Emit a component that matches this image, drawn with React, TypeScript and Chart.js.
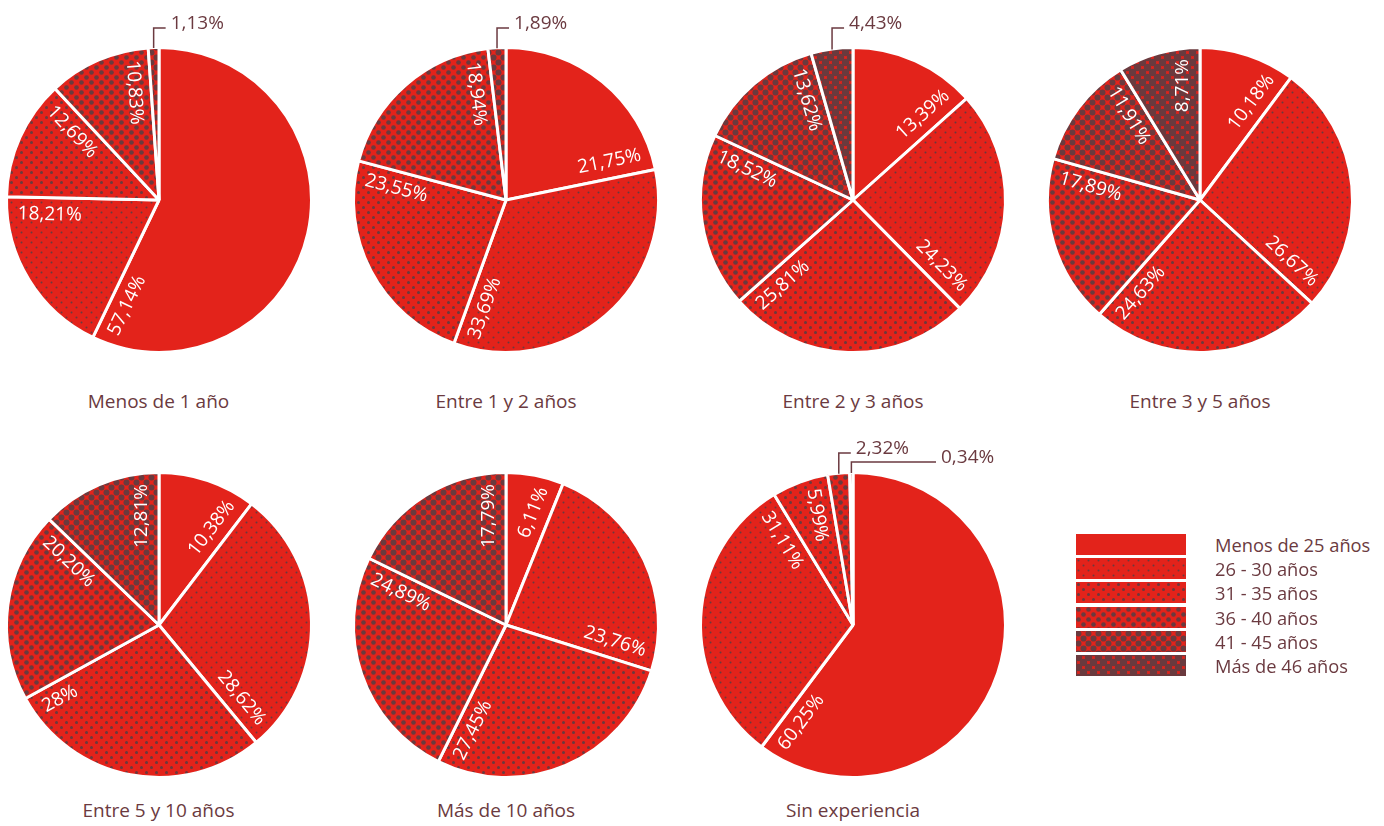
import React, { useEffect, useRef } from "react";
import { Chart, registerables } from "chart.js";

Chart.register(...registerables);

// ---------- data ----------
const AGE_GROUPS = [
  "Menos de 25 años",
  "26 - 30 años",
  "31 - 35 años",
  "36 - 40 años",
  "41 - 45 años",
  "Más de 46 años",
];

const MENOS_1_ANO = [57.14, 18.21, 12.69, 10.83, 1.13, 0];
const ENTRE_1_2 = [21.75, 33.69, 23.55, 18.94, 1.89, 0];
const ENTRE_2_3 = [13.39, 24.23, 25.81, 18.52, 13.62, 4.43];
const ENTRE_3_5 = [10.18, 26.67, 24.63, 17.89, 11.91, 8.71];
const ENTRE_5_10 = [10.38, 28.62, 28, 20.2, 12.81, 0];
const MAS_10 = [6.11, 23.76, 27.45, 24.89, 17.79, 0];
const SIN_EXPERIENCIA = [60.25, 31.11, 5.99, 2.32, 0.34, 0];

const TITLES = [
  "Menos de 1 año",
  "Entre 1 y 2 años",
  "Entre 2 y 3 años",
  "Entre 3 y 5 años",
  "Entre 5 y 10 años",
  "Más de 10 años",
  "Sin experiencia",
];
const SERIES = [MENOS_1_ANO, ENTRE_1_2, ENTRE_2_3, ENTRE_3_5, ENTRE_5_10, MAS_10, SIN_EXPERIENCIA];

// ---------- style ----------
const RED = "#E3231B";
const DOT = "#6A3A3E";
const BROWN = "#6B3A40";
const FONT = "'Open Sans', 'DejaVu Sans', sans-serif";
const DOT_RADII = [0, 1.0, 1.5, 2.3, 3.0, 3.7];

const CENTERS: [number, number][] = [
  [158.5, 199.5],
  [506, 199.5],
  [853, 199.5],
  [1200, 199.5],
  [158.5, 625],
  [506, 625],
  [853, 625],
];
const TITLE_Y = [401, 401, 401, 401, 810, 810, 810];

const CW = 340;
const CH = 380;
const CX_IN = 170;
const CY_IN = 210;
const AREA = 308;

function makePattern(r: number): CanvasPattern | string {
  if (r <= 0) return RED;
  const c = document.createElement("canvas");
  c.width = 10;
  c.height = 10;
  const g = c.getContext("2d")!;
  g.fillStyle = RED;
  g.fillRect(0, 0, 10, 10);
  g.fillStyle = DOT;
  const pts = [
    [2.5, 2.5],
    [7.5, 7.5],
  ];
  for (const [px, py] of pts) {
    for (const dx of [-10, 0, 10]) {
      for (const dy of [-10, 0, 10]) {
        g.beginPath();
        g.arc(px + dx, py + dy, r, 0, Math.PI * 2);
        g.fill();
      }
    }
  }
  return g.createPattern(c, "repeat")!;
}

function fmt(v: number): string {
  const s = Number.isInteger(v) ? String(v) : v.toFixed(2);
  return s.replace(".", ",") + "%";
}

const MARGIN = 10;
const PERP = 17;

const labelPlugin = {
  id: "sliceLabels",
  afterDatasetsDraw(chart: any) {
    const ctx: CanvasRenderingContext2D = chart.ctx;
    const meta = chart.getDatasetMeta(0);
    const values = chart.data.datasets[0].data as number[];
    ctx.save();
    ctx.font = `19px ${FONT}`;
    let prevEnd = -Infinity;
    let extCount = 0;
    meta.data.forEach((el: any, i: number) => {
      const v = values[i];
      if (!v) return;
      const { x, y, startAngle, endAngle, outerRadius } = el.getProps(
        ["x", "y", "startAngle", "endAngle", "outerRadius"],
        true
      );
      const R = outerRadius - 1.5;
      const text = fmt(v);
      const w = ctx.measureText(text).width;
      if (v >= 5) {
        const e = endAngle;
        const ux = Math.cos(e);
        const uy = Math.sin(e);
        const nx = Math.sin(e);
        const ny = -Math.cos(e);
        const a = e + Math.PI;
        const flip = Math.cos(a) < 1e-6;
        const rot = flip ? a + Math.PI : a;
        const rc = R - MARGIN - w / 2;
        const px = x + rc * ux + PERP * nx;
        const py = y + rc * uy + PERP * ny;
        ctx.save();
        ctx.translate(px, py);
        ctx.rotate(rot);
        ctx.fillStyle = "#ffffff";
        ctx.textAlign = "center";
        ctx.textBaseline = "middle";
        ctx.fillText(text, 0, 0);
        ctx.restore();
      } else {
        const m = (startAngle + endAngle) / 2;
        const px = x + R * Math.cos(m);
        const py = y + R * Math.sin(m);
        const topY = y - R;
        let elbowY: number;
        let x2: number;
        if (extCount === 0) {
          elbowY = topY - 21;
          x2 = px + 12;
        } else {
          elbowY = topY - 12;
          x2 = Math.max(px + 12, prevEnd + 27);
        }
        ctx.save();
        ctx.strokeStyle = BROWN;
        ctx.lineWidth = 1.5;
        ctx.beginPath();
        ctx.moveTo(px, py - 1);
        ctx.lineTo(px, elbowY);
        ctx.lineTo(x2, elbowY);
        ctx.stroke();
        ctx.fillStyle = BROWN;
        ctx.textAlign = "left";
        ctx.textBaseline = "alphabetic";
        ctx.fillText(text, x2 + 5, elbowY + 0.5);
        ctx.restore();
        prevEnd = x2 + 5 + w;
        extCount++;
      }
    });
    ctx.restore();
  },
};

function PieChart({ values, idx }: { values: number[]; idx: number }) {
  const ref = useRef<HTMLCanvasElement>(null);
  useEffect(() => {
    const patterns = DOT_RADII.map((r) => makePattern(r));
    const padX = CX_IN - AREA / 2;
    const padTop = CY_IN - AREA / 2;
    const chart = new Chart(ref.current!, {
      type: "pie",
      data: {
        labels: AGE_GROUPS,
        datasets: [
          {
            data: values,
            backgroundColor: patterns as any,
            borderColor: "#ffffff",
            borderWidth: 3,
          },
        ],
      },
      options: {
        animation: false,
        responsive: false,
        maintainAspectRatio: false,
        events: [],
        layout: {
          padding: { left: padX, right: CW - padX - AREA, top: padTop, bottom: CH - padTop - AREA },
        },
        plugins: { legend: { display: false }, tooltip: { enabled: false } },
      },
      plugins: [labelPlugin],
    });
    return () => chart.destroy();
  }, [values]);
  const [cx, cy] = CENTERS[idx];
  return (
    <canvas
      ref={ref}
      width={CW}
      height={CH}
      style={{ position: "absolute", left: cx - CX_IN, top: cy - CY_IN, width: CW, height: CH }}
    />
  );
}

function Swatch({ r }: { r: number }) {
  const ref = useRef<HTMLCanvasElement>(null);
  useEffect(() => {
    const c = ref.current!;
    const g = c.getContext("2d")!;
    g.fillStyle = makePattern(r) as any;
    g.fillRect(0, 0, c.width, c.height);
  }, [r]);
  return <canvas ref={ref} width={110} height={21} style={{ display: "block" }} />;
}

export default function App() {
  return (
    <div
      style={{
        position: "absolute",
        left: 0,
        top: 0,
        width: 1384,
        height: 826,
        overflow: "hidden",
        background: "#ffffff",
        fontFamily: FONT,
      }}
    >
      {SERIES.map((s, i) => (
        <PieChart key={i} values={s} idx={i} />
      ))}
      {TITLES.map((t, i) => (
        <div
          key={t}
          style={{
            position: "absolute",
            left: CENTERS[i][0] - 150,
            width: 300,
            top: TITLE_Y[i] - 12,
            height: 24,
            lineHeight: "24px",
            textAlign: "center",
            fontSize: 19,
            color: BROWN,
          }}
        >
          {t}
        </div>
      ))}
      {AGE_GROUPS.map((g, i) => (
        <div
          key={g}
          style={{
            position: "absolute",
            left: 1076,
            top: 534 + i * 24.2,
            height: 21,
            display: "flex",
            alignItems: "center",
          }}
        >
          <Swatch r={DOT_RADII[i]} />
          <span
            style={{
              marginLeft: 29,
              fontSize: 18.3,
              color: BROWN,
              lineHeight: "21px",
              whiteSpace: "nowrap",
            }}
          >
            {g}
          </span>
        </div>
      ))}
    </div>
  );
}
